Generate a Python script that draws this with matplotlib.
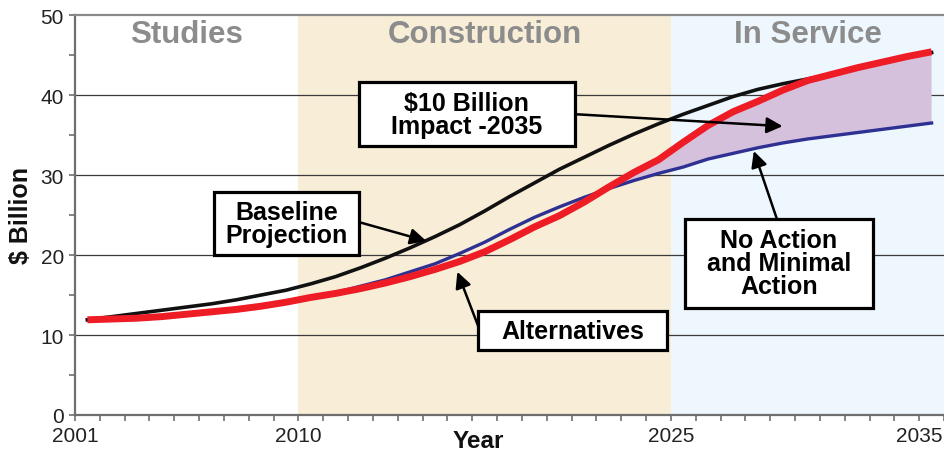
import matplotlib
matplotlib.use("Agg")
import matplotlib.pyplot as plt
from matplotlib.patches import Rectangle
from matplotlib.ticker import FixedLocator, MultipleLocator

# Data (mid-year values, $ billion)
years = [2001.5, 2002.5, 2003.5, 2004.5, 2005.5, 2006.5, 2007.5, 2008.5, 2009.5,
         2010.5, 2011.5, 2012.5, 2013.5, 2014.5, 2015.5, 2016.5, 2017.5, 2018.5,
         2019.5, 2020.5, 2021.5, 2022.5, 2023.5, 2024.5, 2025.5, 2026.5, 2027.5,
         2028.5, 2029.5, 2030.5, 2031.5, 2032.5, 2033.5, 2034.5, 2035.5]

baseline = [11.9, 12.3, 12.7, 13.1, 13.5, 13.9, 14.4, 15.0, 15.6,
            16.4, 17.3, 18.4, 19.6, 20.9, 22.3, 23.8, 25.5, 27.3,
            29.0, 30.7, 32.2, 33.7, 35.1, 36.4, 37.6, 38.7, 39.8,
            40.7, 41.4, 42.0, 42.6, 43.3, 44.0, 44.7, 45.3]

no_action = [11.9, 12.0, 12.1, 12.3, 12.6, 12.9, 13.2, 13.6, 14.1,
             14.7, 15.2, 15.8, 16.5, 17.3, 18.2, 19.2, 20.4, 21.9,
             23.5, 24.9, 26.6, 28.5, 30.3, 31.9, 34.1, 36.2, 37.9,
             39.2, 40.6, 41.8, 42.6, 43.4, 44.1, 44.8, 45.4]

alternatives = [11.9, 12.0, 12.1, 12.3, 12.6, 12.9, 13.2, 13.6, 14.1,
                14.7, 15.3, 16.1, 16.9, 17.9, 18.9, 20.2, 21.6, 23.2,
                24.7, 26.0, 27.2, 28.3, 29.3, 30.2, 31.0, 32.0, 32.7,
                33.4, 34.0, 34.5, 34.9, 35.3, 35.7, 36.1, 36.5]

phases = ["Studies", "Construction", "In Service"]
phase_edges = [2001, 2010, 2025, 2036]
phase_colors = [None, "#F8EDD7", "#EEF7FE"]
xtick_years = [2001, 2010, 2025, 2035]

plt.rcParams["font.family"] = ["Liberation Sans", "DejaVu Sans"]

fig = plt.figure(figsize=(9.44, 4.56), dpi=100)
ax = fig.add_axes([75 / 944, 40 / 456, 869 / 944, 400 / 456])

ax.set_xlim(2001, 2036)
ax.set_ylim(0, 50)

# phase bands + titles
for i, name in enumerate(phases):
    x0, x1 = phase_edges[i], phase_edges[i + 1]
    if phase_colors[i]:
        ax.axvspan(x0, x1, color=phase_colors[i], lw=0, zorder=0)
    ax.text((x0 + x1) / 2, 47.6, name, ha="center", va="center",
            fontsize=22.5, fontweight="bold", color="#8C8C8C", zorder=2)

# grid
for yv in [10, 20, 30, 40]:
    ax.axhline(yv, color="#3A3A3A", lw=0.9, zorder=1)

# impact area
ax.fill_between(years, alternatives, no_action,
                where=[n >= a for n, a in zip(no_action, alternatives)],
                interpolate=True, color="#D6C1DD", lw=0, zorder=2)

ax.plot(years, alternatives, color="#2E3192", lw=2.4, zorder=3)
ax.plot(years, baseline, color="#111111", lw=2.6, zorder=4)
ax.plot(years, no_action, color="#EE1C25", lw=5.0, zorder=5,
        solid_capstyle="butt")


def label_box(x0, x1, y0, y1, text):
    ax.add_patch(Rectangle((x0, y0), x1 - x0, y1 - y0, fc="white",
                           ec="black", lw=2.3, zorder=6))
    ax.text((x0 + x1) / 2, (y0 + y1) / 2, text, ha="center", va="center",
            fontsize=18, fontweight="bold", linespacing=0.95, zorder=7)


def arrow(start, tip):
    ax.annotate("", xy=tip, xytext=start, zorder=8,
                arrowprops=dict(arrowstyle="-|>", color="black", lw=1.8,
                                mutation_scale=24, shrinkA=0, shrinkB=0))


label_box(2006.6, 2012.45, 20.0, 27.9, "Baseline\nProjection")
arrow((2012.45, 24.1), (2015.15, 21.75))

label_box(2012.42, 2021.14, 33.6, 41.6, "$10 Billion\nImpact -2035")
arrow((2021.14, 37.6), (2029.5, 36.1))

label_box(2017.24, 2024.84, 8.1, 13.0, "Alternatives")
arrow((2017.24, 11.1), (2016.4, 17.9))

label_box(2025.57, 2033.13, 13.4, 24.5, "No Action\nand Minimal\nAction")
arrow((2029.27, 24.5), (2028.34, 33.0))

# axes styling
ax.spines["right"].set_visible(False)
ax.spines["left"].set_color("#6E6E6E")
ax.spines["left"].set_linewidth(1.6)
ax.spines["bottom"].set_color("#6E6E6E")
ax.spines["bottom"].set_linewidth(1.6)
ax.spines["top"].set_color("#8A8A8A")
ax.spines["top"].set_linewidth(1.6)

ax.xaxis.set_major_locator(FixedLocator(xtick_years))
ax.xaxis.set_minor_locator(MultipleLocator(1))
ax.set_xticklabels([str(y) for y in xtick_years])
ax.yaxis.set_major_locator(MultipleLocator(10))
ax.yaxis.set_minor_locator(MultipleLocator(5))

ax.tick_params(axis="both", which="both", direction="out", length=4,
               width=1.2, color="#6E6E6E", labelsize=15, labelcolor="#222222")
ax.tick_params(axis="x", which="major", pad=4)
ax.tick_params(axis="y", which="major", pad=4)

ax.set_ylabel("$ Billion", fontsize=18, fontweight="bold", color="#111111")
ax.yaxis.set_label_coords(-0.048, 0.5)
ax.set_xlabel("Year", fontsize=17.5, fontweight="bold", color="#111111")
ax.xaxis.set_label_coords(0.464, -0.035)

fig.savefig("out.png", dpi=100)
